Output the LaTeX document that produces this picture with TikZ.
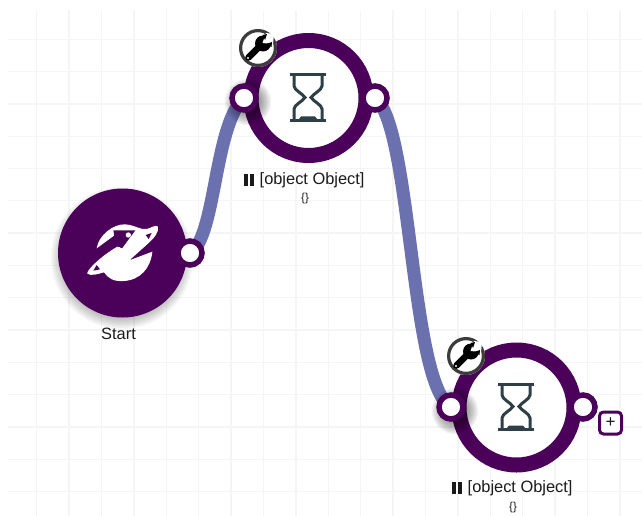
\documentclass[tikz,border=0pt]{standalone}
\usepackage{fontspec}
\setmainfont{Liberation Sans}
\definecolor{plum}{HTML}{4B0059}
\definecolor{wire}{HTML}{6B70AE}
\definecolor{gridc}{HTML}{F5F5F5}
\definecolor{slate}{HTML}{2E3F48}
\definecolor{ink}{HTML}{1A1A1A}
\tikzset{
  x=1pt,y=-1pt,
  wirepath/.style={draw=wire,line width=13pt},
  ring/.style={circle,draw=plum,line width=15pt,fill=white,minimum size=115pt,inner sep=0pt},
  port/.style={circle,draw=plum,line width=5.5pt,fill=white,minimum size=24pt,inner sep=0pt},
  label/.style={font=\fontsize{16.4}{18}\selectfont,text=ink,inner sep=0pt},
  small/.style={font=\fontsize{11.5}{12}\selectfont,text=ink,inner sep=0pt},
  glass/.style={draw=slate,line width=3pt},
}
\newcommand{\softshadow}[4]{%
  \foreach \k in {0,2,...,16}{\fill[black,opacity=#4] (#1,#2) circle[radius=#3+\k*0.7];}}
\newcommand{\hourglass}[2]{%
  \begin{scope}[shift={(#1,#2)}]
    \draw[glass] (-18,-23) -- (18,-23);
    \draw[glass] (-18,22.5) -- (18,22.5);
    \draw[glass] (-14,-23) -- (-14,-12) .. controls (-14,-8) and (-5,-4) .. (-3,-0.5)
       .. controls (-5,3) and (-14,7) .. (-14,11) -- (-14,22.5);
    \draw[glass] (14,-23) -- (14,-12) .. controls (14,-8) and (5,-4) .. (3,-0.5)
       .. controls (5,3) and (14,7) .. (14,11) -- (14,22.5);
    \fill[slate] (-10,22) -- (-7,18.5) -- (7,18.5) -- (10,22) -- cycle;
  \end{scope}}
\newcommand{\wrench}[2]{%
  \begin{scope}[shift={(#1,#2)}]
    \fill[white] (0,0) circle[radius=19];
    \draw[draw=ink!85,line width=3.2pt] (0,0) circle[radius=17.4];
    \draw[black,line width=6.5pt,line cap=round] (-9.5,9.5) -- (4,-4);
    \fill[black] (5,-4.5) circle[radius=8];
    \fill[white] (4.5,-5) -- (8,-15) -- (16,-14) -- (15,-4) -- cycle;
    \fill[black] (4.5,-13) -- (9,-14) -- (7,-8) -- cycle;
    \fill[black] (13.5,-1) -- (14,-6) -- (8,-4) -- cycle;
    \fill[white] (-10,10) circle[radius=1.1];
  \end{scope}}
\newcommand{\pausebars}[2]{%
  \fill[ink] (#1,#2-6) rectangle (#1+4.2,#2+6);
  \fill[ink] (#1+6,#2-6) rectangle (#1+10.2,#2+6);}
\begin{document}
\begin{tikzpicture}
\useasboundingbox (0,0) rectangle (642,516);
\fill[white] (0,0) rectangle (642,516);
% grid
\foreach \i in {1,...,19}{\draw[gridc,line width=1.3pt] ({4.3+32.4*\i},10) -- ({4.3+32.4*\i},516);}
\foreach \j in {0,...,14}{\draw[gridc,line width=1.3pt] (8,{39.3+32.3*\j}) -- (642,{39.3+32.3*\j});}
% shadows
\softshadow{122}{258}{60}{0.03}
% named anchors
\coordinate (startout) at (190,253);
\coordinate (aIn) at (244,98);
\coordinate (aOut) at (375,98);
\coordinate (bIn) at (451,407);
\coordinate (bOut) at (583,407);
% connectors
\draw[wirepath] (startout) .. controls (216,238) and (214,125) .. (aIn);
\draw[wirepath] (aOut) .. controls (412,125) and (410,385) .. (bIn);
% start
\node[circle,fill=plum,minimum size=129pt,inner sep=0pt] (start) at (122.5,253) {};
\node[port] (startport) at (startout) {};
% rocket-planet icon
\begin{scope}[shift={(80,215)},scale=1/3]
  \fill[white] (50,100) .. controls (56,60) and (100,27) .. (135,28)
    .. controls (165,30) and (180,45) .. (200,42)
    .. controls (215,38) and (228,28) .. (234,35)
    .. controls (238,50) and (222,70) .. (205,85)
    -- (148,136) -- (217,110)
    .. controls (212,160) and (180,196) .. (130,198)
    .. controls (100,200) and (85,190) .. (72,172)
    .. controls (55,177) and (32,184) .. (22,176)
    .. controls (18,168) and (60,125) .. (112,95)
    -- (126,98) -- (104,50) -- (102,62) -- cycle;
  \fill[plum] (100,46) -- (166,46) -- (126,100) -- (108,90) -- cycle;
  \fill[white] (145,60) circle[radius=8];
  \fill[plum] (40,167) -- (50,150) -- (60,163) -- cycle;
  \fill[plum] (197,60) -- (215,54) -- (206,72) -- cycle;
\end{scope}
% node A
\node[ring] (a) at (308.5,98) {};
\softshadow{248}{102}{12}{0.05}
\node[port] (aleft) at (aIn) {};
\node[port] (aright) at (aOut) {};
\hourglass{308}{98}
\wrench{258}{48}
\pausebars{244}{179.5}
\node[label,anchor=west] (alabel) at (259.5,180) {[object Object]};
\node[small] (asub) at (305,199) {\{\}};
% node B
\node[ring] (b) at (516.5,407.5) {};
\softshadow{455}{411}{12}{0.05}
\node[port] (bleft) at (bIn) {};
\node[port] (bright) at (bOut) {};
\hourglass{516}{407}
\wrench{466}{356}
\pausebars{452}{487.5}
\node[label,anchor=west] (blabel) at (467.5,488) {[object Object]};
\node[small] (bsub) at (513,508) {\{\}};
% plus
\node[draw=plum,line width=3pt,rounded corners=4pt,minimum size=22pt,inner sep=0pt,fill=white,font=\fontsize{17}{17}\selectfont,text=ink] (plus) at (610.5,423) {+};
% start label
\node[label] (startlabel) at (118.5,334) {Start};
\end{tikzpicture}
\end{document}
